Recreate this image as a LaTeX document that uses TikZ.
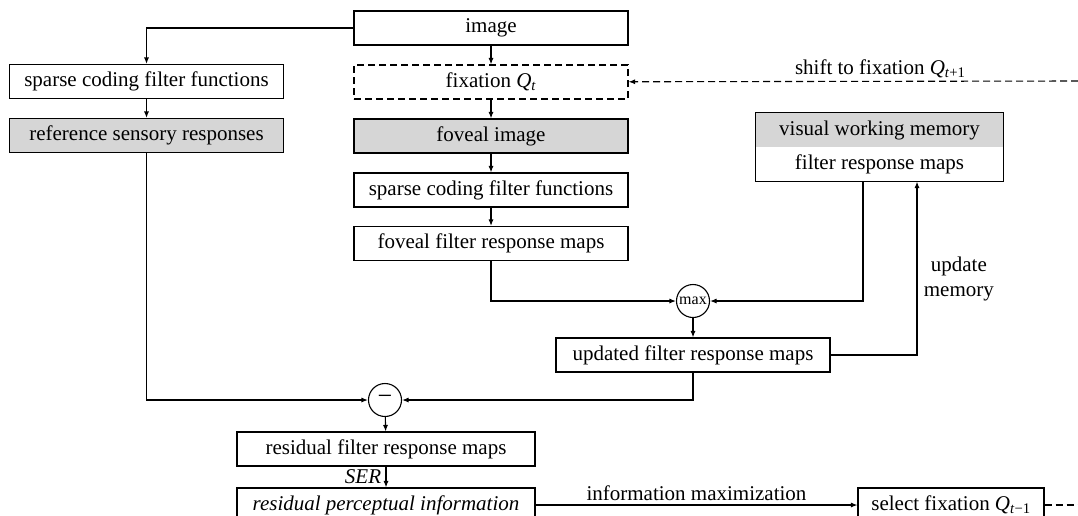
\documentclass[tikz,border=0pt]{standalone}
\usepackage{fontspec}
\setmainfont{Liberation Serif}
\usetikzlibrary{arrows.meta,positioning}
\definecolor{shade}{gray}{0.84}
\tikzset{
	>={Latex[length=6.5pt,width=5pt]},
	box/.style={draw,rectangle,align=center,minimum width=274pt,minimum height=34pt,inner sep=0pt,font=\fontsize{21}{25}\selectfont},
	shaded/.style={box,fill=shade},
	fixbox/.style={box,dash pattern=on 7pt off 4pt},
	op/.style={draw,circle,minimum size=33pt,inner sep=0pt,font=\fontsize{16}{18}\selectfont},
	lbl/.style={font=\fontsize{21}{25}\selectfont,align=center},
	jump/.style={dash pattern=on 7pt off 4pt}
}

\begin{document}
\begin{tikzpicture}[x=1pt,y=-1pt,line width=1.1pt]
            \clip (0,0) rectangle (1078,515);
            \node[box] (img) at (491,28) {image};
            \node[fixbox] (fix) at (491,82) {fixation \textit{Q}\textsubscript{\textit{t}}};
            \node[shaded] (fov) at (491,136) {foveal image};
            \node[box] (sparseB) at (491,190) {sparse coding filter functions};
            \node[box] (fovmaps) at (491,243.5) {foveal filter response maps};
            \node[box] (sparseA) at (146.5,81.5) {sparse coding filter functions};
            \node[shaded] (refresp) at (146.5,135.5) {reference sensory responses};
            \node[box,draw=none,fill=shade,minimum width=247pt] (vwmtop) at (879.5,130) {visual working memory};
            \node[box,draw=none,minimum width=247pt] (vwmbot) at (879.5,164) {filter response maps};
            \draw (vwmtop.north west) rectangle (vwmbot.south east);
            \node[op] (max) at (693,301) {max};
            \node[op,font=\fontsize{26}{28}\selectfont] (minus) at (385,400) {−};
            \node[box] (updmaps) at (693,355) {updated filter response maps};
            \node[box,minimum width=298pt] (resmaps) at (386,449) {residual filter response maps};
            \node[box,minimum width=298pt,font=\fontsize{21}{25}\selectfont\itshape] (resinfo) at (386,505) {residual perceptual information};
            \node[box,minimum width=186pt] (select) at (951,505) {select fixation \textit{Q}\textsubscript{\textit{t}−1}};
            \coordinate (edgeA) at (1078,81);
            \coordinate (edgeB) at (1078,505);
            \draw[->] (img.west) -| (sparseA);
            \draw[->] (img) -- (fix);
            \draw[->] (fix) -- (fov);
            \draw[->] (fov) -- (sparseB);
            \draw[->] (sparseB) -- (fovmaps);
            \draw[->] (sparseA) -- (refresp);
            \draw[->] (refresp) |- (minus);
            \draw[->] (fovmaps) |- (max);
            \draw[->] ([xshift=-16.5pt]vwmbot.south) |- (max);
            \draw[->] (max) -- (updmaps);
            \draw[->] (updmaps.east) -| node[lbl,pos=0.72,right=3pt] {update\\memory} ([xshift=37.5pt]vwmbot.south);
            \draw[->] (updmaps) |- (minus);
            \draw[->] (minus) -- (resmaps);
            \draw[->] (resmaps) -- node[lbl,left=1pt,font=\fontsize{21}{25}\selectfont\itshape] {SER} (resinfo);
            \draw[->] (resinfo) -- node[lbl,above] {information maximization} (select);
            \draw[jump] (select) -- (edgeB);
            \draw[jump,->] (edgeA) -- node[lbl,above,pos=0.44] {shift to fixation \textit{Q}\textsubscript{\textit{t}+1}} (fix);
        \end{tikzpicture}
\end{document}
